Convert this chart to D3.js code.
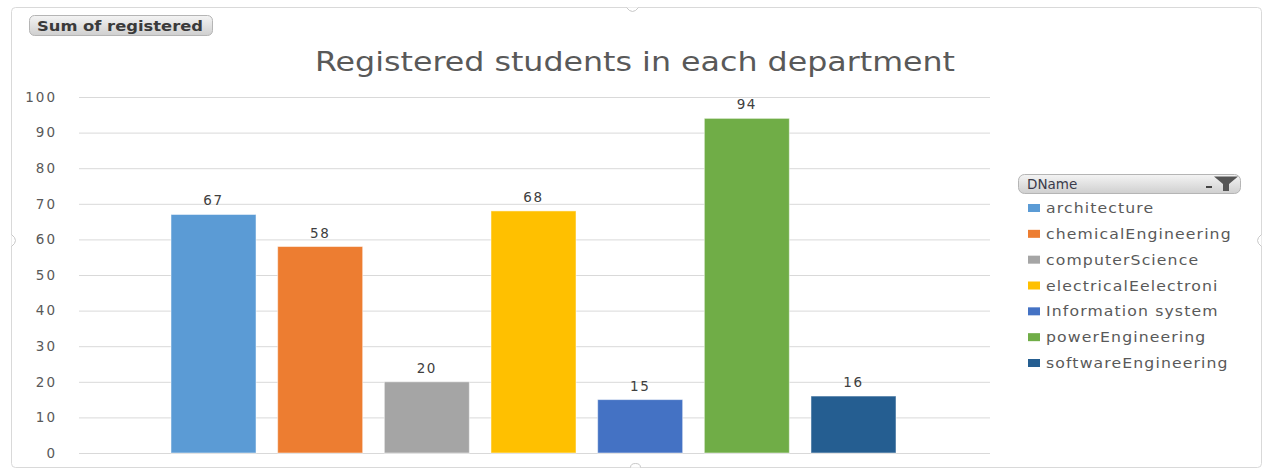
<!DOCTYPE html>
<html>
<head>
<meta charset="utf-8">
<script src="https://cdn.jsdelivr.net/npm/d3@7"></script>
<style>
  html, body { margin: 0; padding: 0; background: #fff; }
  svg { display: block; }
  text { font-family: "DejaVu Sans", Verdana, sans-serif; }
</style>
</head>
<body>
<svg id="chart" width="1265" height="470"></svg>
<script>
// Registered students per department (pivot chart, one category, one series per department)
const departments = [
  "architecture",
  "chemicalEngineering",
  "computerScience",
  "electricalEelectroni",
  "Information system",
  "powerEngineering",
  "softwareEngineering"
];
const registered = [67, 58, 20, 68, 15, 94, 16];
const colors = ["#5B9BD5", "#ED7D31", "#A5A5A5", "#FFC000", "#4472C4", "#70AD47", "#255E91"];
const yTicks = [0, 10, 20, 30, 40, 50, 60, 70, 80, 90, 100];
const chartTitle = "Registered students in each department";
const valueField = "Sum of registered";
const legendField = "DName";

const svg = d3.select("#chart");
const textColor = "#595959";

// Outer chart frame
svg.append("rect")
  .attr("x", 11.5).attr("y", 7.5)
  .attr("width", 1250).attr("height", 460)
  .attr("rx", 4)
  .attr("fill", "#fff")
  .attr("stroke", "#d9d9d9");

// Small resize handles on the frame edges
const handles = svg.append("g").attr("fill", "#fff").attr("stroke", "#c8c8c8");
handles.append("path").attr("d", "M626.5,7.5 q3,4 6,4 q3,0 6,-4");
handles.append("path").attr("d", "M630.5,467.5 q0,-4 5,-4 q5,0 5,4");
handles.append("path").attr("d", "M11.5,234.5 q4,3 4,6 q0,3 -4,6");
handles.append("path").attr("d", "M1261.5,234.5 q-4,3 -4,6 q0,3 4,6");

// Field button
const defs = svg.append("defs");
const grad = defs.append("linearGradient").attr("id", "btn").attr("x1", 0).attr("y1", 0).attr("x2", 0).attr("y2", 1);
grad.append("stop").attr("offset", "0%").attr("stop-color", "#f4f4f4");
grad.append("stop").attr("offset", "100%").attr("stop-color", "#cfcfcf");

svg.append("rect")
  .attr("x", 29.5).attr("y", 15.5).attr("width", 183).attr("height", 20).attr("rx", 5)
  .attr("fill", "url(#btn)").attr("stroke", "#b5b5b5");
svg.append("text")
  .attr("x", 37).attr("y", 30.5)
  .attr("font-size", 13.5)
  .attr("font-weight", 600)
  .attr("fill", "#3a3a3a")
  .attr("textLength", 166).attr("lengthAdjust", "spacingAndGlyphs")
  .text(valueField);

// Title
svg.append("text")
  .attr("x", 635).attr("y", 71)
  .attr("text-anchor", "middle")
  .attr("font-family", "'Open Sans', sans-serif")
  .attr("font-size", 26)
  .attr("fill", textColor)
  .attr("textLength", 640).attr("lengthAdjust", "spacingAndGlyphs")
  .text(chartTitle);

// Plot area
const plot = { left: 79, right: 990, top: 97, bottom: 453 };
const y = d3.scaleLinear().domain([0, 100]).range([plot.bottom, plot.top]);

// Gridlines + tick labels through a left axis
const yAxis = d3.axisLeft(y).tickValues(yTicks).tickSize(-(plot.right - plot.left)).tickPadding(22);
const gAxis = svg.append("g").attr("transform", `translate(${plot.left},0)`).call(yAxis);
gAxis.select(".domain").remove();
gAxis.selectAll(".tick line").attr("stroke", "#d9d9d9").attr("stroke-width", 1);
gAxis.selectAll(".tick text")
  .attr("font-family", "'DejaVu Sans', Verdana, sans-serif")
  .attr("font-size", 13.5)
  .attr("letter-spacing", 2)
  .attr("fill", textColor);

// One category holding seven series bars
const x = d3.scaleBand()
  .domain(departments)
  .range([171, 896])
  .paddingInner(0.203)
  .paddingOuter(0);

const data = departments.map((d, i) => ({ name: d, value: registered[i], color: colors[i] }));

svg.append("g").selectAll("rect")
  .data(data).join("rect")
  .attr("x", d => x(d.name))
  .attr("y", d => y(d.value))
  .attr("width", x.bandwidth())
  .attr("height", d => y(0) - y(d.value))
  .attr("fill", d => d.color)
  .attr("stroke", "rgba(255,255,255,0.5)")
  .attr("stroke-width", 1);

// Value labels
svg.append("g").selectAll("text")
  .data(data).join("text")
  .attr("x", d => x(d.name) + x.bandwidth() / 2)
  .attr("y", d => y(d.value) - 9)
  .attr("text-anchor", "middle")
  .attr("font-size", 13.5)
  .attr("letter-spacing", 1.6)
  .attr("fill", "#404040")
  .text(d => d.value);

// Legend header button
const lg = svg.append("g");
lg.append("rect")
  .attr("x", 1018.5).attr("y", 174.5).attr("width", 222).attr("height", 19).attr("rx", 6)
  .attr("fill", "url(#btn)").attr("stroke", "#b5b5b5");
lg.append("text")
  .attr("x", 1027).attr("y", 189)
  .attr("font-size", 13.5)
  .attr("fill", "#3a3a4a")
  .text(legendField);
// filter funnel + dropdown mark
lg.append("path")
  .attr("d", "M1214,176.5 L1238,176.5 L1229,184 L1229,191 L1223,191 L1223,184 Z")
  .attr("fill", "#555");
lg.append("rect").attr("x", 1206).attr("y", 186).attr("width", 6).attr("height", 2).attr("fill", "#444");

// Legend items
const ly = d3.scalePoint().domain(departments).range([208, 363]);
const items = lg.selectAll("g.item").data(data).join("g").attr("class", "item")
  .attr("transform", d => `translate(0,${ly(d.name)})`);
items.append("rect")
  .attr("x", 1028).attr("y", -4).attr("width", 12).attr("height", 8)
  .attr("fill", d => d.color);
items.append("text")
  .attr("transform", "translate(1046,5) scale(1.12,1)")
  .attr("font-size", 14)
  .attr("letter-spacing", 1)
  .attr("fill", textColor)
  .text(d => d.name);
</script>
</body>
</html>
